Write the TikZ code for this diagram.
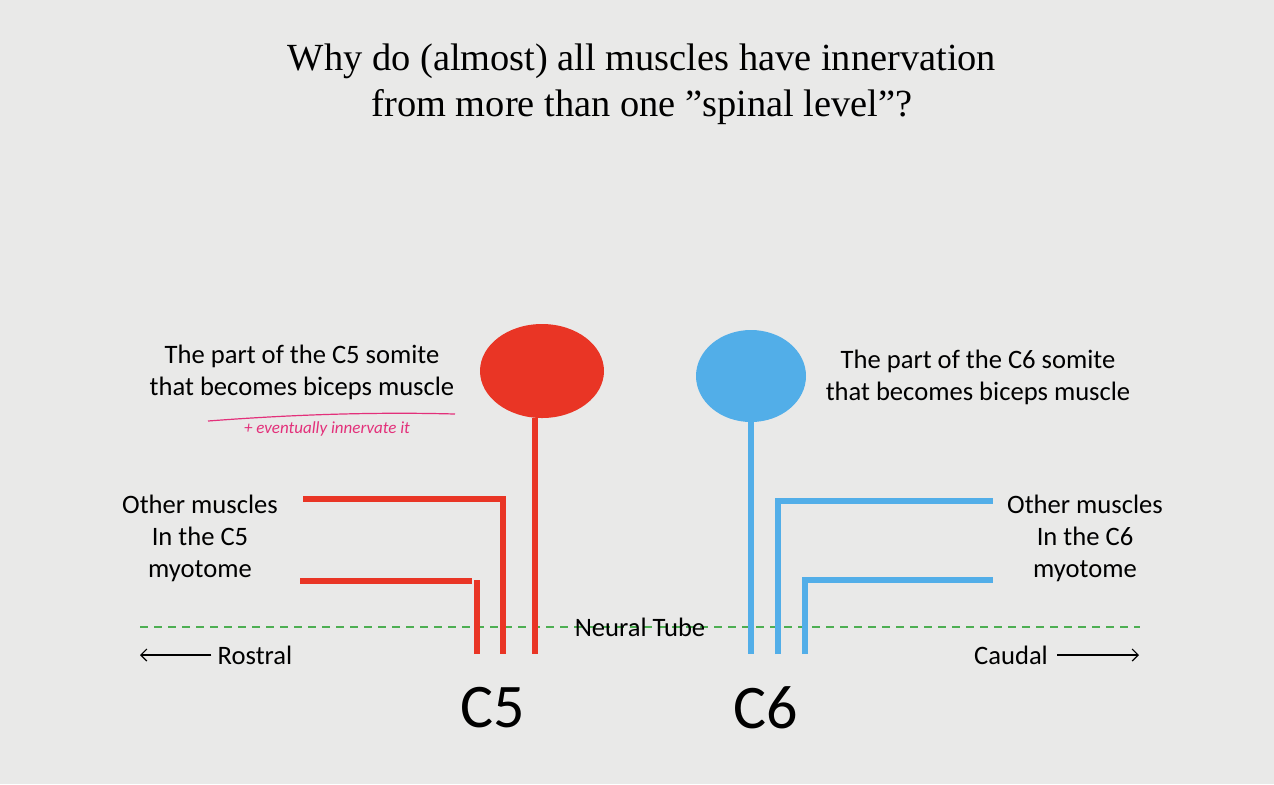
\documentclass[tikz,border=0pt]{standalone}
\usepackage{fontspec}
\setmainfont{Liberation Serif}
\setsansfont{Carlito}
\usepackage{tikz}
\usetikzlibrary{arrows.meta,shapes.geometric}
\definecolor{paper}{HTML}{E9E9E8}
\definecolor{cfive}{HTML}{E93525}
\definecolor{csix}{HTML}{52AEE8}
\definecolor{tube}{HTML}{4DAF52}
\definecolor{pinkink}{HTML}{E3307A}

\begin{document}
\begin{tikzpicture}[x=0.5pt,y=-0.5pt,
	txt/.style={font=\sffamily\fontsize{13.3}{16}\selectfont,align=center,inner sep=0pt},
	level/.style={font=\sffamily\fontsize{31}{31}\selectfont,inner sep=0pt},
	nerve/.style={line width=2.6pt}]
	\fill[paper] (0,0) rectangle (1274,784);
	\node[font=\fontsize{19.2}{23}\selectfont,align=center] (title) at (642,84) {Why do (almost) all muscles have innervation\\from more than one "spinal level"?};
	% somites
	\node[fill=cfive,ellipse,minimum width=62pt,minimum height=47pt,inner sep=0pt] (c5som) at (542,371) {};
	\node[fill=csix,ellipse,minimum width=55pt,minimum height=46pt,inner sep=0pt] (c6som) at (751,376) {};
	\node[txt] (c5txt) at (302,372) {The part of the C5 somite\\that becomes biceps muscle};
	\node[txt] (c6txt) at (978,377) {The part of the C6 somite\\that becomes biceps muscle};
	\node[txt] (c5oth) at (200,538) {Other muscles\\In the C5\\myotome};
	\node[txt] (c6oth) at (1085,538) {Other muscles\\In the C6\\myotome};
	% neural tube
	\coordinate (tl) at (140,627);
	\coordinate (tr) at (1140,627);
	\draw[tube,line width=1pt,dash pattern=on 4pt off 3pt] (tl) -- (tr);
	\node[txt] (ntube) at (640,627) {Neural Tube};
	\node[txt] (rostral) at (255,655) {Rostral};
	\node[txt] (caudal) at (1011,655) {Caudal};
	\coordinate (rend) at (140,655);
	\coordinate (cend) at (1139,655);
	\draw[-{Straight Barb[length=3pt]},semithick] (rostral.west) ++(-6,0) -- (rend);
	\draw[-{Straight Barb[length=3pt]},semithick] (caudal.east) ++(9,0) -- (cend);
	\node[level] (c5) at (493,708) {C5};
	\node[level] (c6) at (766,708) {C6};
	% C5 nerves
	\coordinate (r1) at (535,654);
	\coordinate (r2) at (503,654);
	\coordinate (r3) at (477,654);
	\draw[nerve,cfive] (c5som.south -| r1) -- (r1);
	\draw[nerve,cfive] (303,499) -- (503,499) -- (r2);
	\draw[nerve,cfive] (300,581) -- (472,581);
	\draw[nerve,cfive] (477,580) -- (r3);
	% C6 nerves
	\coordinate (b1) at (751,654);
	\coordinate (b2) at (778,654);
	\coordinate (b3) at (805,654);
	\draw[nerve,csix] (c6som.south) -- (b1);
	\draw[nerve,csix] (b2) -- (778,501) -- (993,501);
	\draw[nerve,csix] (b3) -- (805,580) -- (993,580);
	% scribble
	\draw[pinkink,line width=0.6pt] (208,421) .. controls (300,414) and (380,412) .. (455,414);
	\node[pinkink,font=\sffamily\itshape\fontsize{8.5}{9}\selectfont,inner sep=0pt] (note) at (327,429) {+ eventually innervate it};
\end{tikzpicture}
\end{document}
